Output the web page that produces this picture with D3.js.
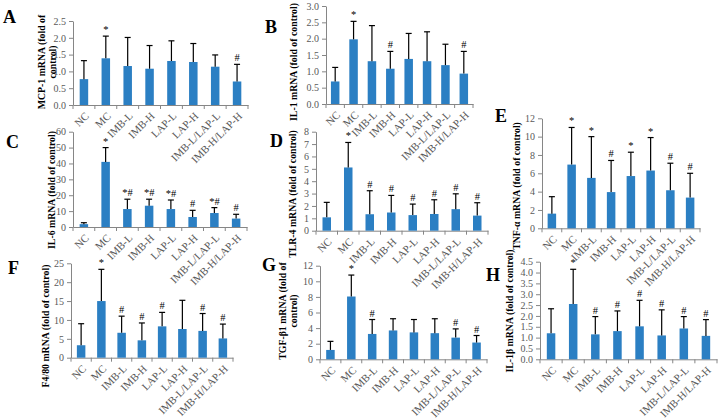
<!DOCTYPE html>
<html><head><meta charset="utf-8">
<script src="https://cdn.jsdelivr.net/npm/d3@7"></script>
<style>body{margin:0;background:#fff} svg{display:block;font-family:"Liberation Serif","Times New Roman",serif}</style>
</head><body><svg id="c" width="721" height="419"></svg>
<script>
const categories = ["NC","MC","IMB-L","IMB-H","LAP-L","LAP-H","IMB-L/LAP-L","IMB-H/LAP-H"];

const mcp1Mean = [0.77,1.39,1.16,1.08,1.31,1.28,1.14,0.70];
const mcp1Sd   = [0.55,0.66,0.85,0.69,0.60,0.55,0.35,0.51];
const mcp1Sig  = ["","*","","","","","","#"];
const mcp1Ticks = [0,0.5,1.0,1.5,2.0,2.5];

const il1Mean = [0.69,1.98,1.31,1.08,1.38,1.31,1.19,0.93];
const il1Sd   = [0.43,0.55,1.09,0.53,0.78,0.90,0.64,0.68];
const il1Sig  = ["","*","","#","","","","#"];
const il1Ticks = [0,0.5,1.0,1.5,2.0,2.5,3.0];

const il6Mean = [1.8,41.0,11.3,13.4,11.3,6.3,8.8,5.3];
const il6Sd   = [0.9,9.0,6.2,4.1,5.7,4.2,3.4,2.7];
const il6Sig  = ["","*","*#","*#","*#","#","*#","#"];
const il6Ticks = [0,10,20,30,40,50,60];

const tlr4Mean = [1.08,5.11,1.33,1.47,1.26,1.35,1.74,1.22];
const tlr4Sd   = [1.21,2.02,1.90,1.38,0.89,1.15,1.24,1.04];
const tlr4Sig  = ["","*","#","#","#","#","#","#"];
const tlr4Ticks = [0,1,2,3,4,5,6,7,8];

const tnfMean = [1.6,6.95,5.5,3.95,5.7,6.3,4.15,3.35];
const tnfSd   = [1.85,4.05,4.5,3.45,2.6,3.6,2.95,2.65];
const tnfSig  = ["","*","*","#","*","*","#","#"];
const tnfTicks = [0,2,4,6,8,10,12];

const f480Mean = [3.3,15.0,6.6,4.6,8.3,7.6,7.1,5.1];
const f480Sd   = [5.7,8.4,4.4,4.6,3.7,7.6,4.6,3.8];
const f480Sig  = ["","*","#","#","#","","#","#"];
const f480Ticks = [0,5,10,15,20,25];

const tgfMean = [1.2,8.05,3.25,3.7,3.45,3.35,2.78,2.15];
const tgfSd   = [1.1,2.75,1.85,1.5,1.65,1.85,1.12,0.9];
const tgfSig  = ["","*","#","","","","#","#"];
const tgfTicks = [0,2,4,6,8,10,12];

const il1bMean = [1.2,2.55,1.15,1.3,1.52,1.1,1.42,1.08];
const il1bSd   = [1.13,1.6,0.82,0.93,1.2,1.18,0.55,0.75];
const il1bSig  = ["","*","#","#","#","#","#","#"];
const il1bTicks = [0,0.5,1.0,1.5,2.0,2.5,3.0,3.5,4.0,4.5];

const panels = [
 {letter:"A", label:["MCP-1 mRNA (fold of","control)"], mean:mcp1Mean, sd:mcp1Sd, sig:mcp1Sig, ticks:mcp1Ticks, fmt:".1f", xr:[73,248], yr:[105,21], lx:[42,53], ly:62, L:[3,23]},
 {letter:"B", label:["IL-1 mRNA (fold of control)"], mean:il1Mean, sd:il1Sd, sig:il1Sig, ticks:il1Ticks, fmt:".1f", xr:[326,473], yr:[104,6], lx:[294], ly:62, L:[265,33]},
 {letter:"C", label:["IL-6 mRNA (fold of control)"], mean:il6Mean, sd:il6Sd, sig:il6Sig, ticks:il6Ticks, fmt:"d", xr:[73,247], yr:[227,131.7], lx:[52], ly:190, L:[6,148]},
 {letter:"D", label:["TLR-4 mRNA (fold of control)"], mean:tlr4Mean, sd:tlr4Sd, sig:tlr4Sig, ticks:tlr4Ticks, fmt:"d", xr:[316,488], yr:[230.7,131.7], lx:[293], ly:194, L:[270,147]},
 {letter:"E", label:["TNF-α mRNA (fold of control)"], mean:tnfMean, sd:tnfSd, sig:tnfSig, ticks:tnfTicks, fmt:"d", xr:[542,700], yr:[228.3,118.3], lx:[517], ly:186, L:[495,122]},
 {letter:"F", label:["F4/80 mRNA (fold of control)"], mean:f480Mean, sd:f480Sd, sig:f480Sig, ticks:f480Ticks, fmt:"d", xr:[71,233], yr:[357.7,263.3], lx:[46], ly:326, L:[8,274]},
 {letter:"G", label:["TGF-β1 mRNA (fold of","control)"], mean:tgfMean, sd:tgfSd, sig:tgfSig, ticks:tgfTicks, fmt:"d", xr:[320,487], yr:[359.3,265.7], lx:[283,294], ly:311, L:[262,271]},
 {letter:"H", label:["IL-1β mRNA (fold of control)"], mean:il1bMean, sd:il1bSd, sig:il1bSig, ticks:il1bTicks, fmt:".1f", xr:[540,717], yr:[359.3,261.7], lx:[510], ly:311, L:[486,281]}
];

const svg = d3.select("#c");
const barColor = "#2B7FC3", axisColor = "#868686", tickText = "#595959";

panels.forEach(p => {
  const g = svg.append("g");
  const x = d3.scaleBand().domain(categories).range(p.xr);
  const y = d3.scaleLinear().domain([0, p.ticks[p.ticks.length-1]]).range(p.yr);
  const bw = 8.5;
  const cx = c => x(c) + x.bandwidth()/2;

  const ya = g.append("g").attr("transform", `translate(${p.xr[0]},0)`)
    .call(d3.axisLeft(y).tickValues(p.ticks).tickSize(4).tickSizeOuter(0).tickPadding(3).tickFormat(d3.format(p.fmt)));
  ya.select(".domain").attr("stroke", axisColor);
  ya.selectAll(".tick line").attr("stroke", axisColor);
  ya.selectAll(".tick text").attr("fill", tickText).attr("font-size", 10).attr("font-family", "Liberation Serif, serif");

  const xa = g.append("g").attr("transform", `translate(0,${p.yr[0]})`)
    .call(d3.axisBottom(x).tickSize(0).tickSizeOuter(0));
  xa.select(".domain").attr("stroke", axisColor);
  xa.selectAll(".tick text")
    .attr("fill", tickText).attr("font-size", 10.8).attr("font-family", "Liberation Serif, serif")
    .attr("x", 0).attr("y", 0).attr("dy", "0.35em")
    .attr("text-anchor", "end")
    .attr("transform", "translate(3,9) rotate(-45)");
  const bounds = d3.range(categories.length + 1).map(i => p.xr[0] + i * x.step());
  g.selectAll(".bt").data(bounds).enter().append("line")
    .attr("x1", d => d).attr("x2", d => d)
    .attr("y1", p.yr[0]).attr("y2", p.yr[0] + 4)
    .attr("stroke", axisColor);

  g.selectAll(".bar").data(categories).enter().append("rect")
    .attr("x", c => cx(c) - bw/2)
    .attr("y", (c,i) => y(p.mean[i]))
    .attr("width", bw)
    .attr("height", (c,i) => y(0) - y(p.mean[i]))
    .attr("fill", barColor);

  g.selectAll(".err").data(categories).enter().append("line")
    .attr("x1", c => cx(c)).attr("x2", c => cx(c))
    .attr("y1", (c,i) => y(p.mean[i]))
    .attr("y2", (c,i) => y(p.mean[i] + p.sd[i]))
    .attr("stroke", "#000").attr("stroke-width", 1.2);
  g.selectAll(".cap").data(categories).enter().append("line")
    .attr("x1", c => cx(c) - 3).attr("x2", c => cx(c) + 3)
    .attr("y1", (c,i) => y(p.mean[i] + p.sd[i]))
    .attr("y2", (c,i) => y(p.mean[i] + p.sd[i]))
    .attr("stroke", "#000").attr("stroke-width", 1.2);

  g.selectAll(".sig").data(categories).enter().append("text")
    .attr("x", c => cx(c))
    .attr("y", (c,i) => y(p.mean[i] + p.sd[i]) - 3)
    .attr("text-anchor", "middle").attr("font-size", 10.5).attr("fill", "#000")
    .text((c,i) => p.sig[i]);

  p.label.forEach((t, k) => {
    g.append("text")
      .attr("transform", `translate(${p.lx[k]},${p.ly}) rotate(-90)`)
      .attr("text-anchor", "middle").attr("dy", "0.35em")
      .attr("font-size", 9.8).attr("font-weight", "bold").attr("fill", "#000")
      .text(t);
  });

  g.append("text").attr("x", p.L[0]).attr("y", p.L[1])
    .attr("font-size", 18).attr("font-weight", "bold").attr("fill", "#000")
    .text(p.letter);
});
</script></body></html>
